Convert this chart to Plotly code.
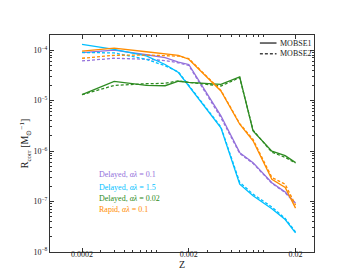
import plotly.graph_objects as go

Z = [0.0002, 0.0004, 0.0008, 0.0012, 0.0016, 0.002, 0.004, 0.006, 0.008, 0.012, 0.016, 0.02]

delayed_01_m1 = [8.9e-5, 1.0e-4, 8.1e-5, 7.1e-5, 5.8e-5, 5.2e-5, 5.0e-6, 9.3e-7, 5.9e-7, 2.35e-7, 1.55e-7, 9.3e-8]
delayed_01_m2 = [6.1e-5, 6.9e-5, 6.6e-5, 6.2e-5, 5.6e-5, 5.0e-5, 4.6e-6, 9.0e-7, 5.7e-7, 2.3e-7, 1.5e-7, 9.0e-8]

delayed_15_m1 = [1.3e-4, 1.04e-4, 7.7e-5, 5.2e-5, 3.6e-5, 1.94e-5, 2.9e-6, 2.2e-7, 1.3e-7, 7.2e-8, 4.4e-8, 2.4e-8]
delayed_15_m2 = [9.0e-5, 8.8e-5, 6.6e-5, 4.9e-5, 3.7e-5, 2.0e-5, 3.0e-6, 2.4e-7, 1.4e-7, 7.8e-8, 4.6e-8, 2.5e-8]

delayed_002_m1 = [1.31e-5, 2.4e-5, 2.0e-5, 1.97e-5, 2.42e-5, 2.3e-5, 2.1e-5, 2.94e-5, 2.5e-6, 1.0e-6, 8.1e-7, 5.9e-7]
delayed_002_m2 = [1.31e-5, 2.0e-5, 2.16e-5, 2.2e-5, 2.47e-5, 2.3e-5, 1.95e-5, 2.85e-5, 2.6e-6, 9.5e-7, 7.5e-7, 5.8e-7]

rapid_01_m1 = [9.6e-5, 1.1e-4, 9.3e-5, 8.5e-5, 7.9e-5, 6.6e-5, 1.55e-5, 3.4e-6, 1.6e-6, 2.75e-7, 1.9e-7, 7.4e-8]
rapid_01_m2 = [6.9e-5, 7.9e-5, 8.0e-5, 7.9e-5, 7.6e-5, 6.8e-5, 1.6e-5, 3.5e-6, 1.7e-6, 3.0e-7, 2.2e-7, 8.5e-8]

series = [
    ("Delayed, <i>αλ</i> = 0.1", "#9370DB", delayed_01_m1, delayed_01_m2),
    ("Delayed, <i>αλ</i> = 1.5", "#00BFFF", delayed_15_m1, delayed_15_m2),
    ("Delayed, <i>αλ</i> = 0.02", "#2E8B22", delayed_002_m1, delayed_002_m2),
    ("Rapid, <i>αλ</i> = 0.1", "#FF8C00", rapid_01_m1, rapid_01_m2),
]

x_major = [0.0002, 0.002, 0.02]
x_major_labels = ["0.0002", "0.002", "0.02"]
y_major = [1e-8, 1e-7, 1e-6, 1e-5, 1e-4]
y_major_labels = ["10<sup>−8</sup>", "10<sup>−7</sup>", "10<sup>−6</sup>", "10<sup>−5</sup>", "10<sup>−4</sup>"]
model_names = ["MOBSE1", "MOBSE2"]

FONT = "Liberation Serif, Times New Roman, serif"
AX = "#333333"
DASH = "3px,2px"

fig = go.Figure()
for name, color, m1, m2 in series:
    fig.add_trace(go.Scatter(x=Z, y=m1, mode="lines", line=dict(color=color, width=1.3),
                             showlegend=False))
    fig.add_trace(go.Scatter(x=Z, y=m2, mode="lines", line=dict(color=color, width=1.3, dash=DASH),
                             showlegend=False))

# colored text labels
label_y = [0.356, 0.298, 0.246, 0.195]
for (name, color, _, _), yy in zip(series, label_y):
    fig.add_annotation(x=0.178, y=yy, xref="paper", yref="paper", text=name,
                       showarrow=False, xanchor="left", yanchor="middle",
                       font=dict(family=FONT, size=8, color=color))

# line-style legend (manual)
leg_y = [0.963, 0.914]
for nm, yy, dash in zip(model_names, leg_y, ["solid", DASH]):
    fig.add_shape(type="line", xref="paper", yref="paper", x0=0.795, x1=0.858, y0=yy, y1=yy,
                  line=dict(color="#444444", width=1.5, dash=dash))
    fig.add_annotation(x=0.862, y=yy, xref="paper", yref="paper", text=nm, showarrow=False,
                       xanchor="left", yanchor="middle", font=dict(family=FONT, size=8, color="#222"))

x_minor = [k * 10.0 ** e for e in range(-4, -1) for k in range(1, 10)
           if not any(abs(k * 10.0 ** e - m) < 1e-12 for m in x_major)]
y_minor = [k * 10.0 ** e for e in range(-8, -3) for k in range(2, 10)]

fig.update_xaxes(type="log", range=[-3.999, -1.526], tickvals=x_major, ticktext=x_major_labels,
                 ticks="inside", ticklen=4, tickcolor=AX, tickwidth=1, ticklabelstandoff=-6,
                 minor=dict(tickvals=x_minor, ticks="inside", ticklen=2, tickcolor=AX, tickwidth=0.8, showgrid=False),
                 showline=True, linecolor=AX, linewidth=1, mirror="allticks", showgrid=False, zeroline=False,
                 tickfont=dict(family=FONT, size=8, color="#222"), automargin=True,
                 title=dict(text="Z", font=dict(family=FONT, size=10, color="#222"), standoff=0))
fig.update_yaxes(type="log", range=[-8, -3.70], tickvals=y_major, ticktext=y_major_labels,
                 ticks="inside", ticklen=4, tickcolor=AX, tickwidth=1,
                 minor=dict(tickvals=y_minor, ticks="inside", ticklen=2, tickcolor=AX, tickwidth=0.8, showgrid=False),
                 showline=True, linecolor=AX, linewidth=1, mirror="allticks", showgrid=False, zeroline=False,
                 tickfont=dict(family=FONT, size=8, color="#222"), automargin=True,
                 title=dict(text="R<sub>corr</sub> [M<sub>⊙</sub><sup>−1</sup>]",
                            font=dict(family=FONT, size=10, color="#222"), standoff=2))

fig.update_layout(
    width=340, height=272,
    margin=dict(l=42, r=34, t=27, b=28, autoexpand=False),
    paper_bgcolor="white", plot_bgcolor="white",
    showlegend=False,
)

fig.write_html("out.html")
